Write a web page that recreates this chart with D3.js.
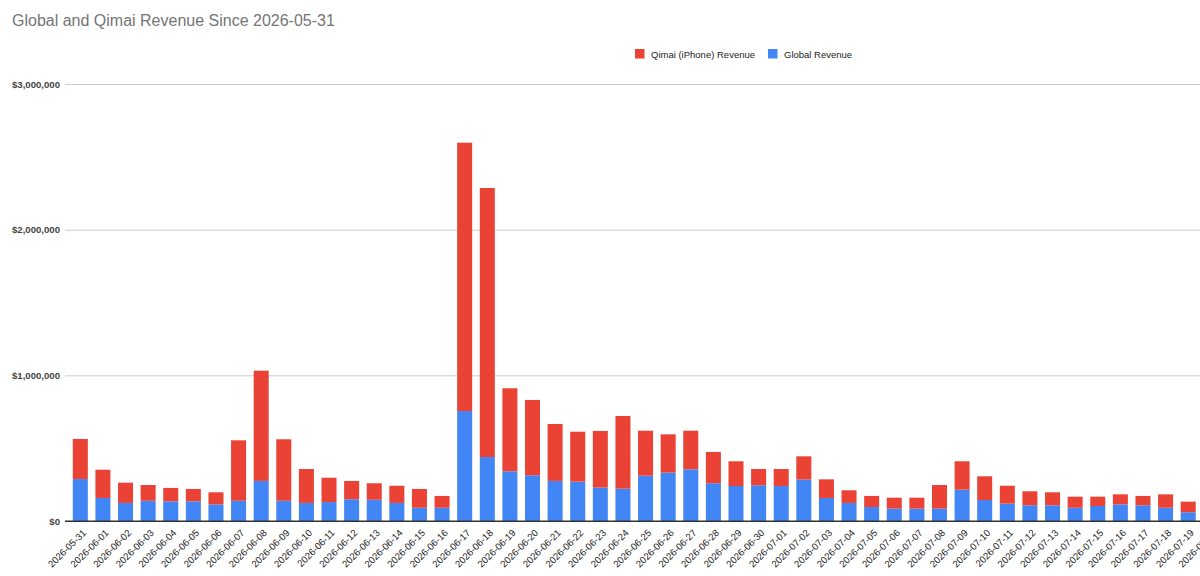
<!DOCTYPE html>
<html>
<head>
<meta charset="utf-8">
<script src="https://cdn.jsdelivr.net/npm/d3@7"></script>
<style>
  body { margin: 0; background: #fff; }
  #chart text { font-family: Arial, "Liberation Sans", sans-serif; }
</style>
</head>
<body>
<div id="chart"></div>
<script>
// one label per day, the last one is cut off at the right edge
var dates = ["2026-05-31",
  "2026-06-01","2026-06-02","2026-06-03","2026-06-04","2026-06-05","2026-06-06","2026-06-07","2026-06-08","2026-06-09","2026-06-10",
  "2026-06-11","2026-06-12","2026-06-13","2026-06-14","2026-06-15","2026-06-16","2026-06-17","2026-06-18","2026-06-19","2026-06-20",
  "2026-06-21","2026-06-22","2026-06-23","2026-06-24","2026-06-25","2026-06-26","2026-06-27","2026-06-28","2026-06-29","2026-06-30",
  "2026-07-01","2026-07-02","2026-07-03","2026-07-04","2026-07-05","2026-07-06","2026-07-07","2026-07-08","2026-07-09","2026-07-10",
  "2026-07-11","2026-07-12","2026-07-13","2026-07-14","2026-07-15","2026-07-16","2026-07-17","2026-07-18","2026-07-19","2026-07-20"];

// blue, bottom of the stack
var globalRevenue = [288000,
  158000,124000,139000,135000,135000,114000,139000,275000,139000,124000,
  130000,149000,146000,124000,91000,91000,755000,439000,341000,314000,
  275000,270000,229000,222000,311000,332000,355000,259000,240000,245000,
  240000,284000,158000,124000,96000,85000,85000,85000,215000,144000,
  119000,108000,108000,91000,103000,114000,108000,91000,60000];

// red, on top
var qimaiRevenue = [275000,
  194000,139000,108000,92000,85000,83000,415000,757000,422000,233000,
  167000,126000,113000,118000,129000,81000,1842000,1847000,570000,517000,
  391000,343000,389000,499000,309000,263000,265000,215000,170000,112000,
  117000,160000,128000,87000,76000,75000,75000,162000,195000,163000,
  123000,96000,89000,76000,64000,69000,64000,92000,73000];

var yTicks = [0, 1000000, 2000000, 3000000];

var seriesNames = ["Qimai (iPhone) Revenue", "Global Revenue"];
var colors = {global: "#4285f4", qimai: "#ea4335"};

drawChart(1200, 576);

function drawChart(w, h){
  var svg = d3.select("#chart").append("svg")
      .attr("width", w)
      .attr("height", h);

  var plotLeft = 65,
      baseY = 521,
      topY = 84;

  var x = d3.scaleBand()
      .domain(dates)
      .range([69, 69 + dates.length * 22.61])
      .paddingInner(0.336)
      .paddingOuter(0.168);

  var y = d3.scaleLinear()
      .domain([0, 3000000])
      .range([baseY, topY]);

  // title
  svg.append("text")
      .attr("x", 12)
      .attr("y", 26)
      .attr("font-size", "16px")
      .attr("fill", "#757575")
      .text("Global and Qimai Revenue Since 2026-05-31");

  // y axis + gridlines
  var yAxis = svg.append("g")
      .attr("transform", "translate(" + plotLeft + ",0)")
      .call(d3.axisLeft(y)
        .tickValues(yTicks)
        .tickSize(-(w - plotLeft))
        .tickPadding(5)
        .tickFormat(d3.format("$,")));
  yAxis.select(".domain").remove();
  yAxis.selectAll("line")
      .attr("stroke", function(d){ return d === 0 ? "#333" : "#ccc"; });
  yAxis.selectAll("text")
      .attr("font-size", "9.6px")
      .attr("fill", "#444")
      .attr("font-weight", "bold");

  var rows = dates.slice(0, globalRevenue.length).map(function(d, i){
    return {date: d, global: globalRevenue[i], qimai: qimaiRevenue[i]};
  });
  var stacked = d3.stack().keys(["global", "qimai"])(rows);

  svg.append("g")
    .selectAll("g")
    .data(stacked)
    .enter().append("g")
      .attr("fill", function(d){ return colors[d.key]; })
    .selectAll("rect")
    .data(function(d){ return d; })
    .enter().append("rect")
      .attr("x", function(d){ return x(d.data.date); })
      .attr("y", function(d){ return y(d[1]); })
      .attr("height", function(d){ return y(d[0]) - y(d[1]); })
      .attr("width", x.bandwidth());

  // redraw the baseline over the bars
  svg.append("line")
      .attr("x1", plotLeft).attr("x2", w)
      .attr("y1", y(0)).attr("y2", y(0))
      .attr("stroke", "#333");

  // x axis, rotated labels
  var xAxis = svg.append("g")
      .attr("transform", "translate(0," + baseY + ")")
      .call(d3.axisBottom(x).tickSize(0).tickPadding(0));
  xAxis.select(".domain").remove();
  xAxis.selectAll("text")
      .attr("font-size", "9.6px")
      .attr("fill", "#222")
      .attr("text-anchor", "end")
      .attr("dy", "0.35em")
      .attr("transform", "translate(4,10) rotate(-45)");

  // legend
  var legend = svg.append("g")
      .selectAll("g")
      .data(seriesNames)
      .enter().append("g")
      .attr("transform", function(d, i){ return "translate(" + (i === 0 ? 635 : 768) + ",49)"; });

  legend.append("rect")
      .attr("width", 9.5)
      .attr("height", 9.5)
      .attr("fill", function(d, i){ return i === 0 ? colors.qimai : colors.global; });

  legend.append("text")
      .attr("x", 16)
      .attr("y", 8.5)
      .attr("font-size", "9.5px")
      .attr("fill", "#222")
      .text(function(d){ return d; });
}
</script>
</body>
</html>
